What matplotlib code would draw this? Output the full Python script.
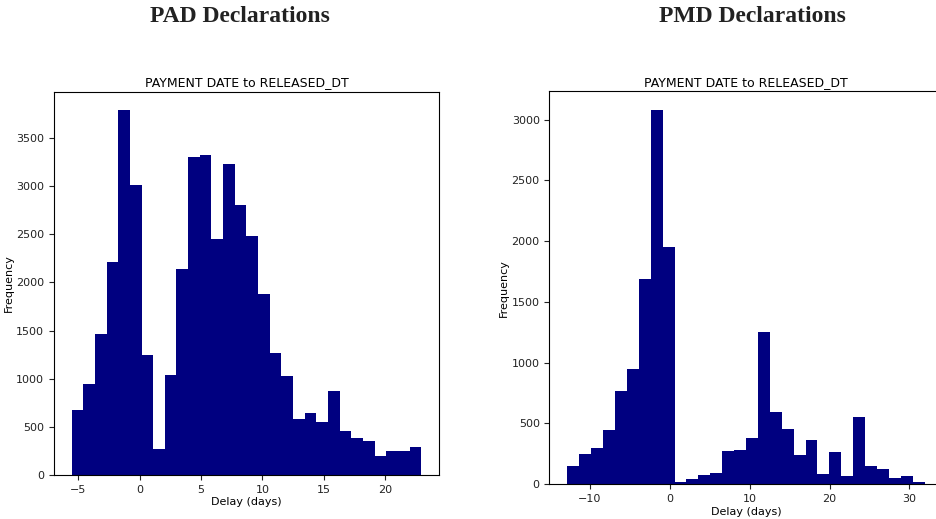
import numpy as np
import matplotlib
matplotlib.use("Agg")
import matplotlib.pyplot as plt

# histogram counts (30 bins each)
pad_counts = [680, 950, 1470, 2210, 3790, 3010, 1250, 270, 1035, 2135,
              3305, 3320, 2450, 3230, 2800, 2480, 1880, 1265, 1030, 580,
              645, 555, 870, 460, 385, 350, 200, 245, 245, 290]
pad_range = (-5.55, 22.95)

pmd_counts = [150, 250, 300, 445, 765, 945, 1690, 3080, 1955, 20,
              40, 75, 90, 275, 280, 375, 1255, 595, 455, 235,
              365, 85, 260, 70, 550, 145, 120, 50, 70, 20]
pmd_range = (-12.8, 31.9)

pad_yticks = [0, 500, 1000, 1500, 2000, 2500, 3000, 3500]
pmd_yticks = [0, 500, 1000, 1500, 2000, 2500, 3000]
pad_xticks = [-5, 0, 5, 10, 15, 20]
pmd_xticks = [-10, 0, 10, 20, 30]

SUBTITLE = "PAYMENT DATE to RELEASED_DT"


def draw(ax, counts, rng, xticks, yticks):
    edges = np.linspace(rng[0], rng[1], len(counts) + 1)
    ax.hist(edges[:-1], bins=edges, weights=counts, color="navy")
    ax.set_xticks(xticks)
    ax.set_yticks(yticks)
    ax.tick_params(labelsize=8, length=3.5, width=0.8, colors="#222222")
    ax.set_xlabel("Delay (days)", fontsize=8, labelpad=2)
    ax.set_ylabel("Frequency", fontsize=8, labelpad=2)
    ax.set_title(SUBTITLE, fontsize=9, pad=4)
    for s in ax.spines.values():
        s.set_linewidth(0.8)


fig = plt.figure(figsize=(9.36, 5.19), dpi=100)
ax1 = fig.add_axes([0.0577, 0.0848, 0.4113, 0.738])
ax2 = fig.add_axes([0.587, 0.0674, 0.42, 0.7566])
draw(ax1, pad_counts, pad_range, pad_xticks, pad_yticks)
draw(ax2, pmd_counts, pmd_range, pmd_xticks, pmd_yticks)

fig.text(240 / 936, 1 - 17 / 519, "PAD Declarations", ha="center", va="center",
         family="Liberation Serif", weight="bold", fontsize=17, color="#222222")
fig.text(752 / 936, 1 - 17 / 519, "PMD Declarations", ha="center", va="center",
         family="Liberation Serif", weight="bold", fontsize=17, color="#222222")

fig.savefig("out.png", dpi=100)
